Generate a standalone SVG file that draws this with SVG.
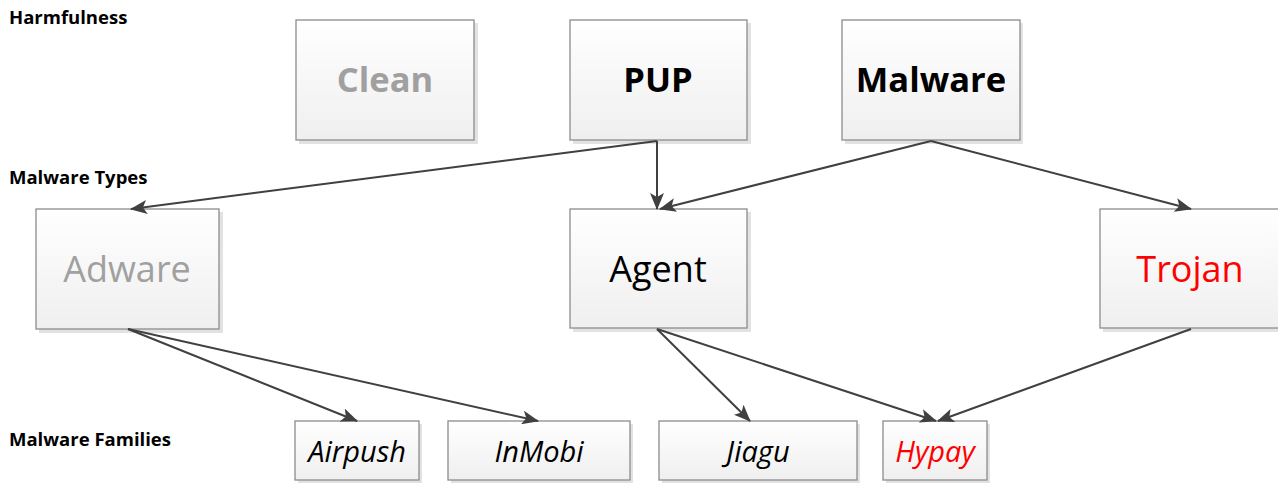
<svg xmlns="http://www.w3.org/2000/svg" width="1278" height="483" viewBox="0 0 1278 483">
<defs>
<linearGradient id="g" x1="0" y1="0" x2="0" y2="1">
<stop offset="0" stop-color="#ffffff"/>
<stop offset="1" stop-color="#efefef"/>
</linearGradient>
<marker id="arr" markerWidth="18" markerHeight="14" refX="16" refY="7" orient="auto" markerUnits="userSpaceOnUse">
<path d="M0,0 L17,7 L0,14 L4,7 Z" fill="#404040"/>
</marker>
</defs>
<style>
.box{fill:url(#g);stroke:#8c8c8c;stroke-width:1.3}
.sh{fill:#e2e2e2}
.lbl{font-family:"Open Sans","Liberation Sans",sans-serif;font-weight:bold;font-size:18.5px;fill:#000}
.h{font-family:"Open Sans","Liberation Sans",sans-serif;font-weight:bold;font-size:34.5px;text-anchor:middle}
.t{font-family:"Open Sans","Liberation Sans",sans-serif;font-size:36px;text-anchor:middle}
.f{font-family:"Open Sans","Liberation Sans",sans-serif;font-style:italic;font-size:29px;text-anchor:middle}
.c line{stroke:#404040;stroke-width:2;marker-end:url(#arr)}
</style>
<text class="lbl" x="9" y="24">Harmfulness</text>
<text class="lbl" x="9" y="184">Malware Types</text>
<text class="lbl" x="9" y="446">Malware Families</text>
<g id="clean"><rect class="sh" x="299" y="23" width="179" height="121"/><rect class="box" x="296" y="20" width="178" height="120"/><text class="h" x="385" y="92" fill="#a0a0a0">Clean</text></g>
<g id="pup"><rect class="sh" x="573" y="23" width="178" height="121"/><rect class="box" x="570" y="20" width="177" height="120"/><text class="h" x="658" y="92" fill="#000">PUP</text></g>
<g id="malware"><rect class="sh" x="845" y="23" width="178" height="121"/><rect class="box" x="842" y="20" width="178" height="120"/><text class="h" x="931" y="92" fill="#000">Malware</text></g>
<g id="adware"><rect class="sh" x="39" y="212" width="184" height="121"/><rect class="box" x="36" y="209" width="183" height="120"/><text class="t" x="127" y="282" fill="#a0a0a0">Adware</text></g>
<g id="agent"><rect class="sh" x="573" y="212" width="178" height="120"/><rect class="box" x="570" y="209" width="177" height="119"/><text class="t" x="658" y="282" fill="#000">Agent</text></g>
<g id="trojan"><rect class="sh" x="1103" y="212" width="180" height="120"/><rect class="box" x="1100" y="209" width="180" height="119"/><text class="t" x="1190" y="282" fill="#ff0000">Trojan</text></g>
<g id="airpush"><rect class="sh" x="298" y="424" width="124" height="60"/><rect class="box" x="295" y="421" width="124" height="59"/><text class="f" x="357" y="462" fill="#000">Airpush</text></g>
<g id="inmobi"><rect class="sh" x="451" y="424" width="182" height="60"/><rect class="box" x="448" y="421" width="182" height="59"/><text class="f" x="539" y="462" fill="#000">InMobi</text></g>
<g id="jiagu"><rect class="sh" x="662" y="424" width="198" height="60"/><rect class="box" x="659" y="421" width="198" height="59"/><text class="f" x="758" y="462" fill="#000">Jiagu</text></g>
<g id="hypay"><rect class="sh" x="886" y="424" width="104" height="60"/><rect class="box" x="883" y="421" width="104" height="59"/><text class="f" x="935" y="462" fill="#ff0000">Hypay</text></g>
<g id="connectors" class="c">
<line x1="657" y1="141" x2="131" y2="209"/>
<line x1="657" y1="141" x2="657" y2="209"/>
<line x1="931" y1="141" x2="660" y2="209"/>
<line x1="931" y1="141" x2="1191" y2="209"/>
<line x1="128" y1="329" x2="357" y2="421"/>
<line x1="128" y1="329" x2="538" y2="421"/>
<line x1="657" y1="329" x2="750" y2="421"/>
<line x1="657" y1="329" x2="936" y2="421"/>
<line x1="1191" y1="329" x2="938" y2="421"/>
</g>
</svg>
